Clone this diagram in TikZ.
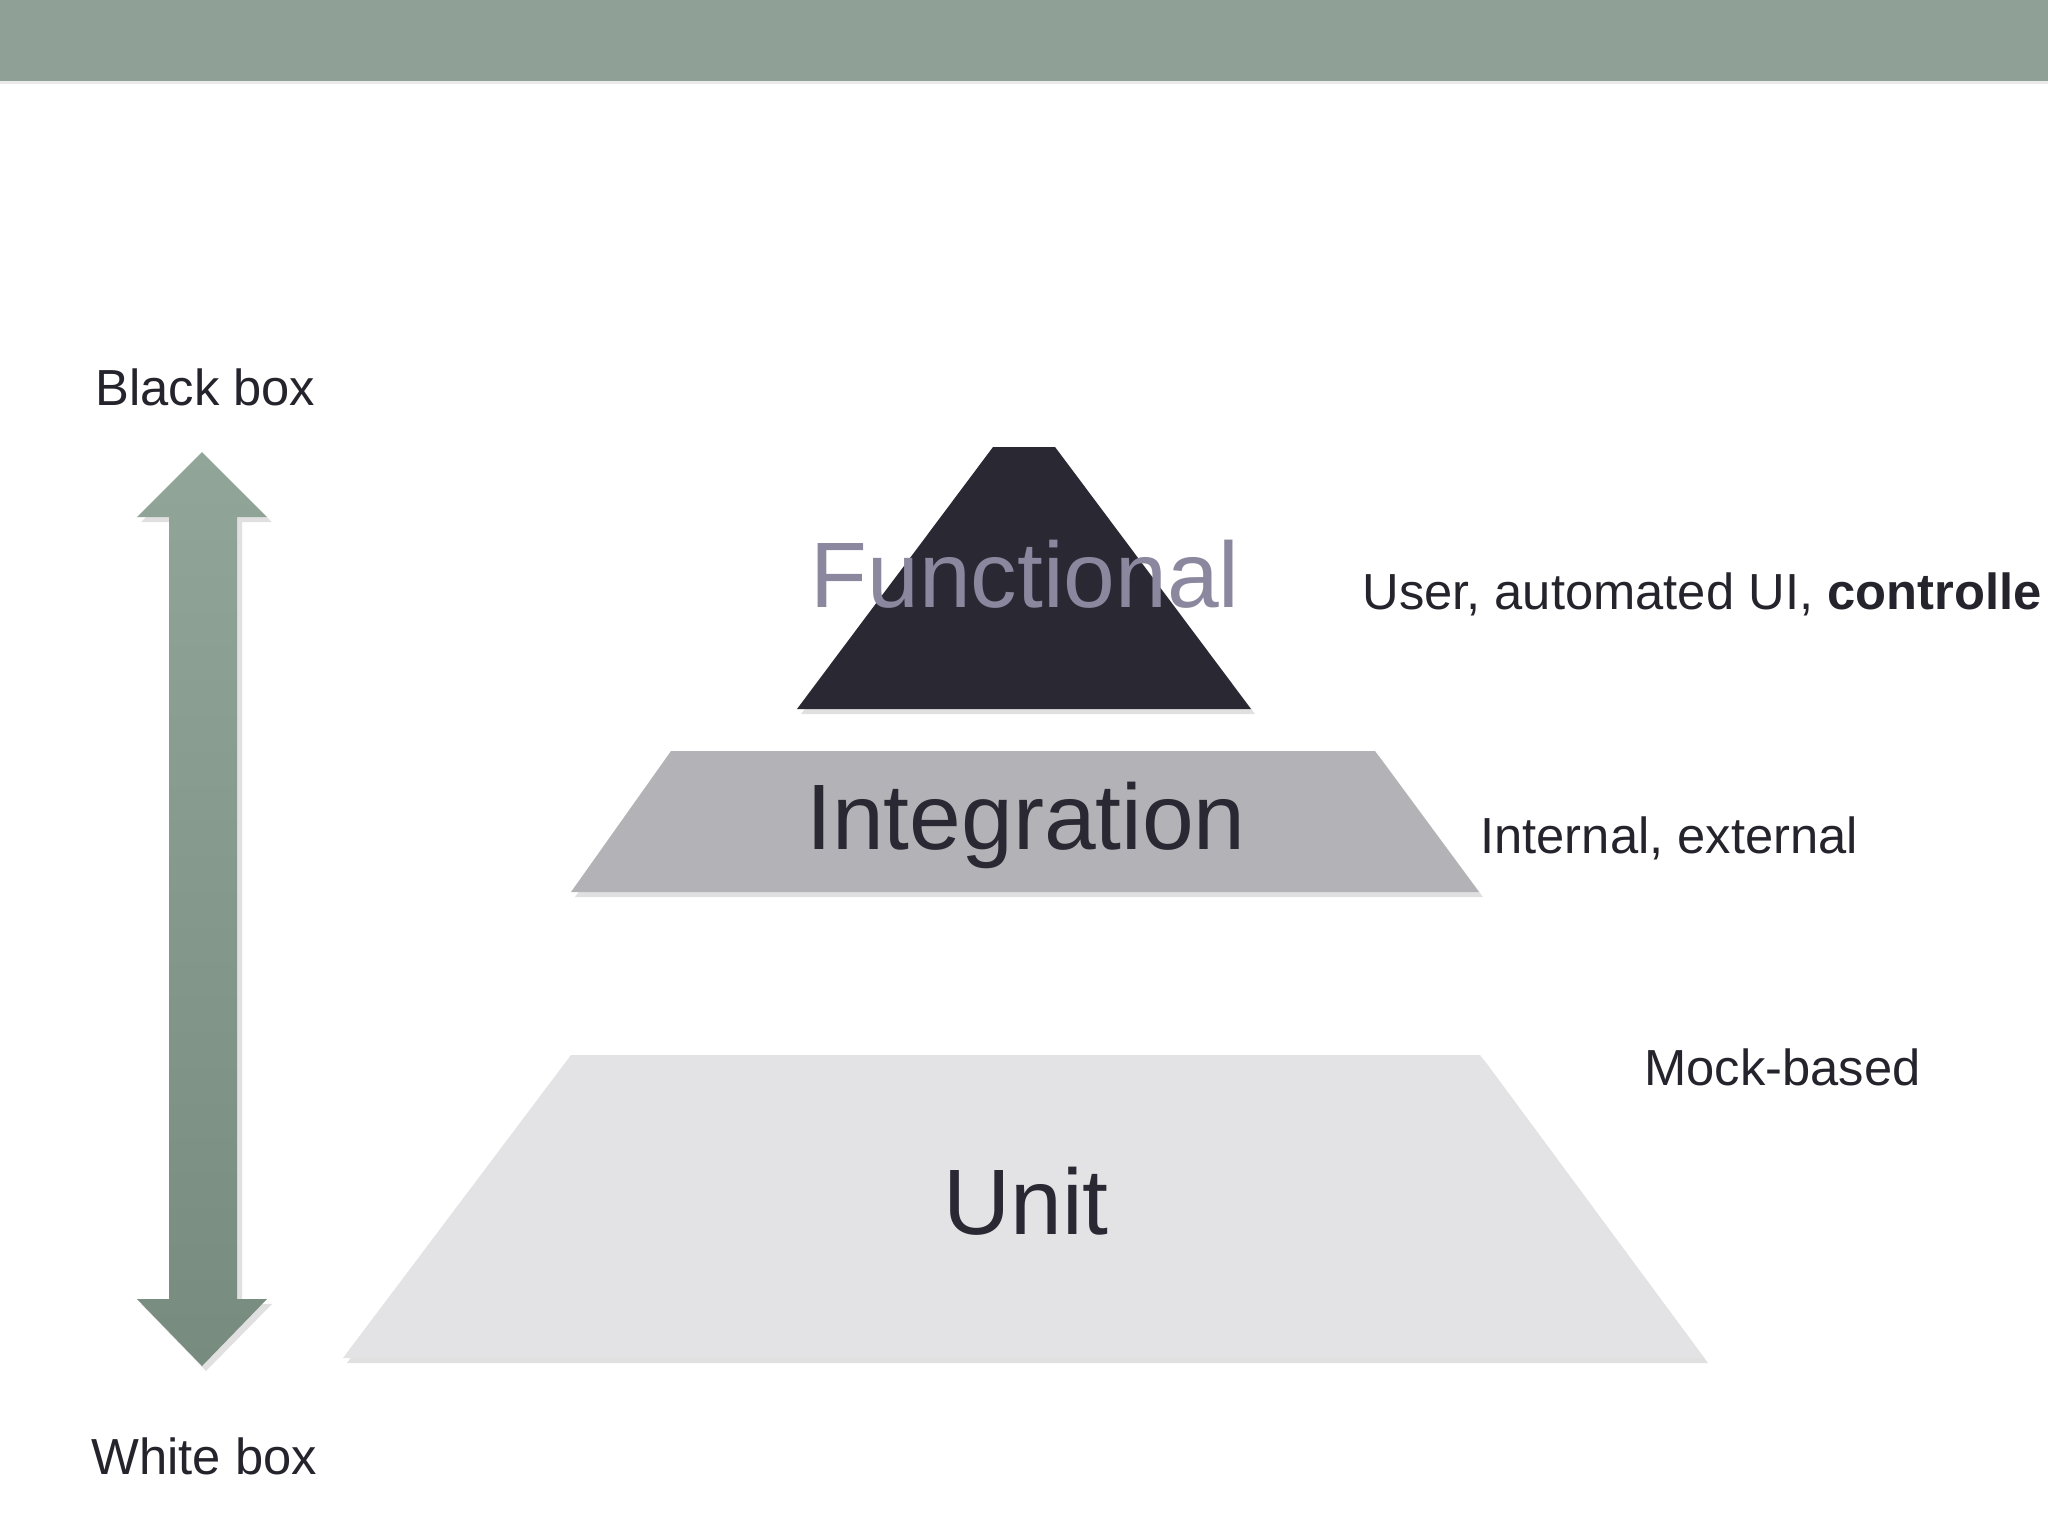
\documentclass[tikz,border=0pt]{standalone}
\usepackage{fontspec}
\setmainfont{Liberation Sans}
\definecolor{barcol}{RGB}{143,161,151}
\definecolor{funccol}{RGB}{42,40,51}
\definecolor{functext}{RGB}{138,135,158}
\definecolor{integcol}{RGB}{179,178,182}
\definecolor{unitcol}{RGB}{227,226,229}
\definecolor{txtcol}{RGB}{37,36,44}
\definecolor{arrtop}{RGB}{145,165,153}
\definecolor{arrbot}{RGB}{120,139,127}
\tikzset{
  smalltxt/.style={inner sep=0pt, anchor=base west, text=txtcol, font=\fontsize{25.35}{30}\selectfont},
  bigtxt/.style={inner sep=0pt, anchor=base, font=\fontsize{46.5}{56}\selectfont},
  shapeshadow/.style={fill=black, opacity=0.12},
}
\begin{document}
\begin{tikzpicture}[x=0.5pt,y=-0.5pt]
\useasboundingbox (0,0) rectangle (2048,1536);
\fill[white] (0,0) rectangle (2048,1536);
% top bar
\fill[barcol] (0,0) rectangle (2048,81);
\fill[black,opacity=0.08] (0,81) rectangle (2048,84);

% double arrow with shadow
\fill[shapeshadow] (206,457) -- (272,522) -- (242,522) -- (242,1304) -- (272,1304) -- (206,1371) -- (141,1304) -- (173,1304) -- (173,522) -- (141,522) -- cycle;
\shade[top color=arrtop, bottom color=arrbot] (202,452) -- (267,517) -- (237,517) -- (237,1299) -- (267,1299) -- (202,1366) -- (137,1299) -- (169,1299) -- (169,517) -- (137,517) -- cycle;

% pyramid levels with soft shadows
\fill[shapeshadow] (575,1060) -- (1484,1060) -- (1708,1363) -- (347,1363) -- cycle;
\fill[unitcol] (571,1055) -- (1480,1055) -- (1704,1358) -- (343,1358) -- cycle;

\fill[shapeshadow] (675,756) -- (1379,756) -- (1483,897) -- (575,897) -- cycle;
\fill[integcol] (671,751) -- (1375,751) -- (1479,892) -- (571,892) -- cycle;

\fill[shapeshadow] (997,452) -- (1059,452) -- (1255,714) -- (801,714) -- cycle;
\fill[funccol] (993,447) -- (1055,447) -- (1251,709) -- (797,709) -- cycle;

% level labels
\node[bigtxt, text=functext] (functional) at (1025,607) {Functional};
\node[bigtxt, text=funccol] (integration) at (1026,849) {Integration};
\node[bigtxt, text=funccol] (unit) at (1026,1234) {Unit};

% side labels
\node[smalltxt] (blackbox) at (95,405) {Black box};
\node[smalltxt] (whitebox) at (91,1474) {White box};
\node[smalltxt] (user) at (1362,609) {User, automated UI, \textbf{controlle}};
\node[smalltxt] (internal) at (1480,853) {Internal, external};
\node[smalltxt] (mock) at (1644,1085) {Mock-based};
\end{tikzpicture}
\end{document}
